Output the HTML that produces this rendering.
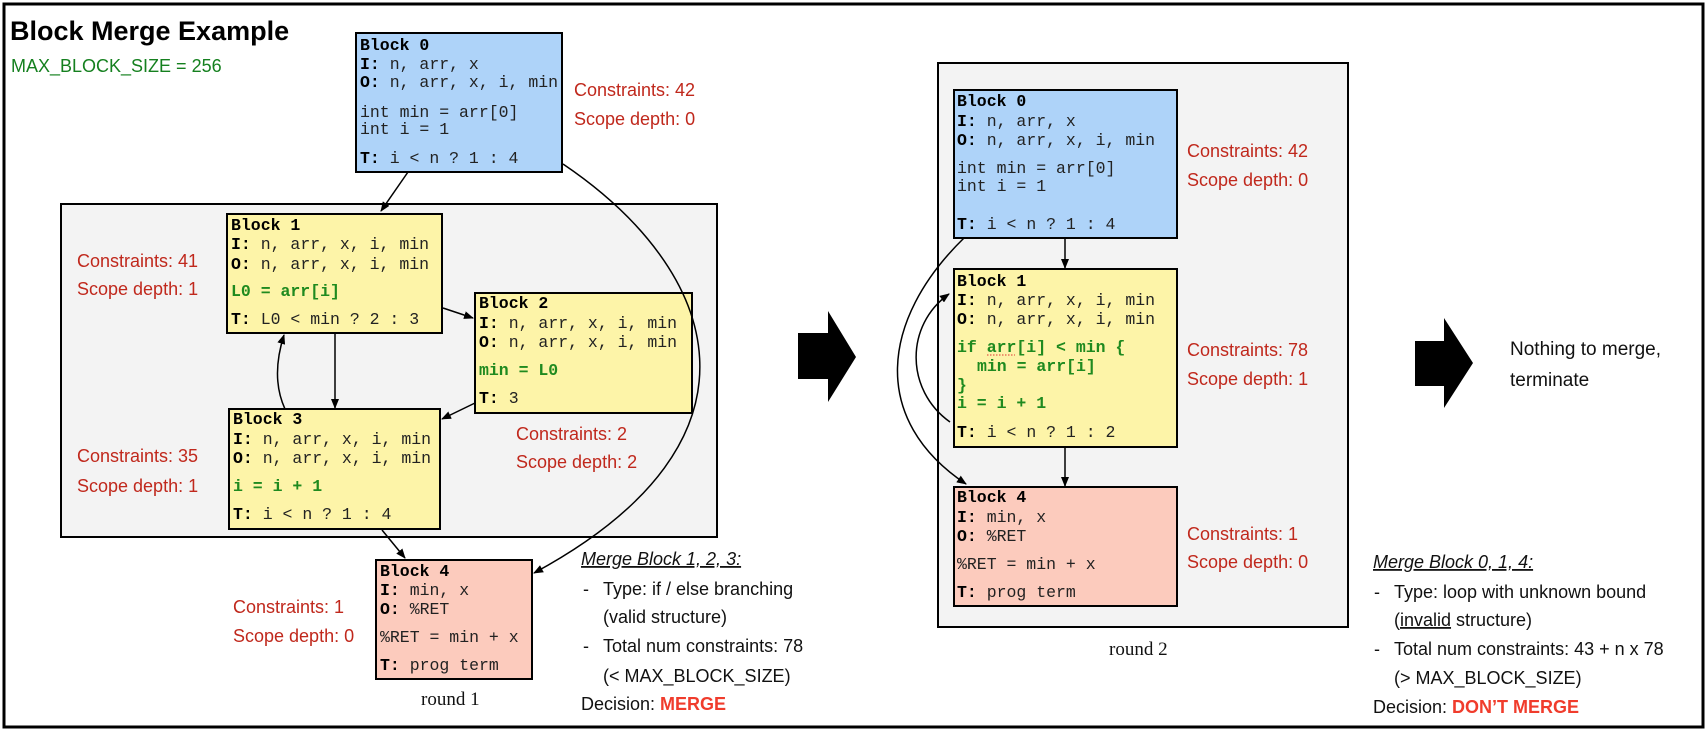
<!DOCTYPE html>
<html><head><meta charset="utf-8"><style>
html,body{margin:0;padding:0;background:#fff}
svg{display:block}
.m{font-family:"Liberation Mono",monospace;font-size:16.5px;fill:#222}
.b{font-weight:bold;fill:#000}
.g{font-weight:bold;fill:#1f8a1f}
.r{font-family:"Liberation Sans",sans-serif;font-size:18px;fill:#c0281c}
.s{font-family:"Liberation Sans",sans-serif;font-size:18px;fill:#111}
.rd{font-family:"Liberation Serif",serif;font-size:19px;fill:#111}
</style></head><body>
<svg width="1706" height="732" viewBox="0 0 1706 732" xmlns="http://www.w3.org/2000/svg">
<defs><marker id="ah" markerWidth="10" markerHeight="8" refX="9" refY="4" orient="auto" markerUnits="userSpaceOnUse"><path d="M0,0 L10,4 L0,8 z" fill="#000"/></marker></defs>
<rect x="4" y="4" width="1699" height="723" fill="#fff" stroke="#000" stroke-width="3"/>
<text x="10" y="40" font-family="Liberation Sans,sans-serif" font-size="27" font-weight="bold" fill="#000">Block Merge Example</text>
<text x="11" y="72" font-family="Liberation Sans,sans-serif" font-size="18" fill="#15801f">MAX_BLOCK_SIZE = 256</text>

<!-- Round 1 -->
<rect x="61" y="204" width="656" height="333" fill="#f3f3f3" stroke="#000" stroke-width="2"/>
<rect x="356" y="33" width="206" height="139" fill="#aed3f9" stroke="#000" stroke-width="2"/>
<text class="m" x="360"><tspan class="b" x="360" y="50">Block 0</tspan><tspan x="360" y="69"><tspan class="b">I:</tspan> n, arr, x</tspan><tspan x="360" y="87"><tspan class="b">O:</tspan> n, arr, x, i, min</tspan><tspan x="360" y="117">int min = arr[0]</tspan><tspan x="360" y="134">int i = 1</tspan><tspan x="360" y="163"><tspan class="b">T:</tspan> i &lt; n ? 1 : 4</tspan></text>

<rect x="227" y="214" width="215" height="119" fill="#fdf4a8" stroke="#000" stroke-width="2"/>
<text class="m"><tspan class="b" x="231" y="230">Block 1</tspan><tspan x="231" y="249"><tspan class="b">I:</tspan> n, arr, x, i, min</tspan><tspan x="231" y="269"><tspan class="b">O:</tspan> n, arr, x, i, min</tspan><tspan class="g" x="231" y="296">L0 = arr[i]</tspan><tspan x="231" y="324"><tspan class="b">T:</tspan> L0 &lt; min ? 2 : 3</tspan></text>

<rect x="475" y="293" width="217" height="120" fill="#fdf4a8" stroke="#000" stroke-width="2"/>
<text class="m"><tspan class="b" x="479" y="308">Block 2</tspan><tspan x="479" y="328"><tspan class="b">I:</tspan> n, arr, x, i, min</tspan><tspan x="479" y="347"><tspan class="b">O:</tspan> n, arr, x, i, min</tspan><tspan class="g" x="479" y="375">min = L0</tspan><tspan x="479" y="403"><tspan class="b">T:</tspan> 3</tspan></text>

<rect x="229" y="409" width="211" height="120" fill="#fdf4a8" stroke="#000" stroke-width="2"/>
<text class="m"><tspan class="b" x="233" y="424">Block 3</tspan><tspan x="233" y="444"><tspan class="b">I:</tspan> n, arr, x, i, min</tspan><tspan x="233" y="463"><tspan class="b">O:</tspan> n, arr, x, i, min</tspan><tspan class="g" x="233" y="491">i = i + 1</tspan><tspan x="233" y="519"><tspan class="b">T:</tspan> i &lt; n ? 1 : 4</tspan></text>

<rect x="376" y="560" width="156" height="119" fill="#fccbbd" stroke="#000" stroke-width="2"/>
<text class="m"><tspan class="b" x="380" y="576">Block 4</tspan><tspan x="380" y="595"><tspan class="b">I:</tspan> min, x</tspan><tspan x="380" y="614"><tspan class="b">O:</tspan> %RET</tspan><tspan x="380" y="642">%RET = min + x</tspan><tspan x="380" y="670"><tspan class="b">T:</tspan> prog term</tspan></text>

<g fill="none" stroke="#000" stroke-width="1.5" marker-end="url(#ah)">
<path d="M408,172 L381,211"/>
<path d="M563,164 C720,270 780,440 534,573"/>
<path d="M443,308 L473,318"/>
<path d="M335,333 L335,408"/>
<path d="M285,409 C274,385 276,360 284,335"/>
<path d="M475,403 L442,419"/>
<path d="M382,530 L405,558"/>
</g>

<text class="r"><tspan x="574" y="96">Constraints: 42</tspan><tspan x="574" y="125">Scope depth: 0</tspan></text>
<text class="r"><tspan x="77" y="267">Constraints: 41</tspan><tspan x="77" y="295">Scope depth: 1</tspan></text>
<text class="r"><tspan x="516" y="440">Constraints: 2</tspan><tspan x="516" y="468">Scope depth: 2</tspan></text>
<text class="r"><tspan x="77" y="462">Constraints: 35</tspan><tspan x="77" y="492">Scope depth: 1</tspan></text>
<text class="r"><tspan x="233" y="613">Constraints: 1</tspan><tspan x="233" y="642">Scope depth: 0</tspan></text>
<text class="rd" x="421" y="705">round 1</text>

<text class="s" x="581" y="565" font-style="italic" text-decoration="underline">Merge Block 1, 2, 3:</text>
<text class="s"><tspan x="583" y="595">-</tspan><tspan x="603" y="595">Type: if / else branching</tspan><tspan x="603" y="623">(valid structure)</tspan><tspan x="583" y="652">-</tspan><tspan x="603" y="652">Total num constraints: 78</tspan><tspan x="603" y="682">(&lt; MAX_BLOCK_SIZE)</tspan><tspan x="581" y="710">Decision: <tspan font-weight="bold" fill="#f03c2c">MERGE</tspan></tspan></text>

<path d="M798,333 L828,333 L828,311 L856,357 L828,402 L828,379 L798,379 z" fill="#000"/>

<!-- Round 2 -->
<rect x="938" y="63" width="410" height="564" fill="#f3f3f3" stroke="#000" stroke-width="2"/>
<rect x="954" y="90" width="223" height="148" fill="#aed3f9" stroke="#000" stroke-width="2"/>
<text class="m"><tspan class="b" x="957" y="106">Block 0</tspan><tspan x="957" y="126"><tspan class="b">I:</tspan> n, arr, x</tspan><tspan x="957" y="145"><tspan class="b">O:</tspan> n, arr, x, i, min</tspan><tspan x="957" y="173">int min = arr[0]</tspan><tspan x="957" y="191">int i = 1</tspan><tspan x="957" y="229"><tspan class="b">T:</tspan> i &lt; n ? 1 : 4</tspan></text>

<rect x="954" y="269" width="223" height="178" fill="#fdf4a8" stroke="#000" stroke-width="2"/>
<text class="m"><tspan class="b" x="957" y="286">Block 1</tspan><tspan x="957" y="305"><tspan class="b">I:</tspan> n, arr, x, i, min</tspan><tspan x="957" y="324"><tspan class="b">O:</tspan> n, arr, x, i, min</tspan><tspan class="g" x="957" y="352">if arr[i] &lt; min {</tspan><tspan class="g" x="977" y="371">min = arr[i]</tspan><tspan class="g" x="957" y="390">}</tspan><tspan class="g" x="957" y="408">i = i + 1</tspan><tspan x="957" y="437"><tspan class="b">T:</tspan> i &lt; n ? 1 : 2</tspan></text>
<line x1="987" y1="355" x2="1015" y2="355" stroke="#d33" stroke-width="1" stroke-dasharray="1.5,1.5"/>

<rect x="954" y="487" width="223" height="119" fill="#fccbbd" stroke="#000" stroke-width="2"/>
<text class="m"><tspan class="b" x="957" y="502">Block 4</tspan><tspan x="957" y="522"><tspan class="b">I:</tspan> min, x</tspan><tspan x="957" y="541"><tspan class="b">O:</tspan> %RET</tspan><tspan x="957" y="569">%RET = min + x</tspan><tspan x="957" y="597"><tspan class="b">T:</tspan> prog term</tspan></text>

<g fill="none" stroke="#000" stroke-width="1.5" marker-end="url(#ah)">
<path d="M1065,238 L1065,268"/>
<path d="M1065,447 L1065,486"/>
<path d="M964,238 C880,320 870,420 966,484"/>
<path d="M950,422 C905,390 905,325 949,294"/>
</g>

<text class="r"><tspan x="1187" y="157">Constraints: 42</tspan><tspan x="1187" y="186">Scope depth: 0</tspan></text>
<text class="r"><tspan x="1187" y="356">Constraints: 78</tspan><tspan x="1187" y="385">Scope depth: 1</tspan></text>
<text class="r"><tspan x="1187" y="540">Constraints: 1</tspan><tspan x="1187" y="568">Scope depth: 0</tspan></text>
<text class="rd" x="1109" y="655">round 2</text>

<path d="M1415,341 L1444,341 L1444,318 L1473,363 L1444,408 L1444,386 L1415,386 z" fill="#000"/>
<text font-family="Liberation Sans,sans-serif" font-size="19" fill="#111"><tspan x="1510" y="355">Nothing to merge,</tspan><tspan x="1510" y="386">terminate</tspan></text>

<text class="s" x="1373" y="568" font-style="italic" text-decoration="underline">Merge Block 0, 1, 4:</text>
<text class="s"><tspan x="1374" y="598">-</tspan><tspan x="1394" y="598">Type: loop with unknown bound</tspan><tspan x="1394" y="626">(<tspan text-decoration="underline">invalid</tspan> structure)</tspan><tspan x="1374" y="655">-</tspan><tspan x="1394" y="655">Total num constraints: 43 + n x 78</tspan><tspan x="1394" y="684">(&gt; MAX_BLOCK_SIZE)</tspan><tspan x="1373" y="713">Decision: <tspan font-weight="bold" fill="#f03c2c">DON’T MERGE</tspan></tspan></text>
</svg>
</body></html>
